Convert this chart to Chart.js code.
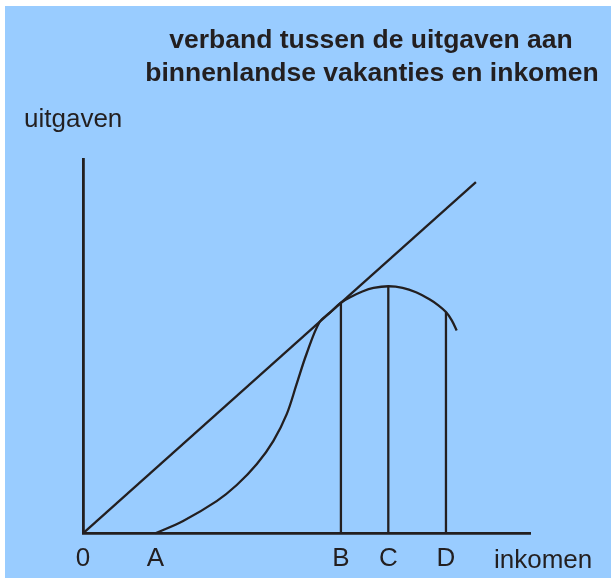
<!DOCTYPE html>
<html>
<head>
<meta charset="utf-8">
<script src="https://cdn.jsdelivr.net/npm/chart.js@4"></script>
<style>
  body { margin: 0; background: #ffffff; overflow: hidden; }
  #chart { position: absolute; left: 5px; top: 6px; background: #99ccff; }
</style>
</head>
<body>
<canvas id="chart" width="606" height="572"></canvas>
<script>
// Marks on the income axis
const markLabels = ['0', 'A', 'B', 'C', 'D'];
const markIncome = [0, 16.2, 57.7, 68.3, 81.2];

// Spending on domestic holidays versus income (the curve)
const curveIncome = [16.2, 22.4, 29.9, 34.4, 38.9, 42.6, 45.6, 47.8, 50.0, 52.9, 55.3, 57.7, 60.0, 62.5, 65.0, 68.3, 71.5, 74.5, 77.5, 79.5, 81.2, 82.5, 83.6];
const curveSpending = [0, 3.3, 8.6, 12.9, 18.5, 24.7, 31.9, 39.9, 47.9, 56.4, 59.0, 61.6, 63.2, 64.6, 65.55, 66.0, 65.6, 64.4, 62.5, 60.9, 59.1, 56.9, 54.2];

// Straight line from the origin
const lineIncome = [0, 87.9];
const lineSpending = [0, 93.85];

// Height of the curve at B, C and D
const dropIncome = [57.7, 68.3, 81.2];
const dropSpending = [61.6, 66.0, 59.1];

const ink = '#231f20';
const font = "'Liberation Sans', Arial, sans-serif";

function pairs(xs, ys) {
  return xs.map((x, i) => ({ x: x, y: ys[i] }));
}

const datasets = [
  { data: pairs(lineIncome, lineSpending) },
  { data: pairs(curveIncome, curveSpending), tension: 0.35 }
];
dropIncome.forEach((x, i) => {
  datasets.push({ data: [{ x: x, y: 0 }, { x: x, y: dropSpending[i] }] });
});
datasets.forEach(ds => {
  ds.borderColor = ink;
  ds.borderWidth = 2.3;
  ds.pointRadius = 0;
  ds.fill = false;
  ds.clip = false;
});

// Title and axis names
const textPlugin = {
  id: 'texts',
  afterDraw(chart) {
    const ctx = chart.ctx;
    ctx.save();
    ctx.fillStyle = ink;
    ctx.textBaseline = 'alphabetic';
    ctx.textAlign = 'center';
    ctx.font = 'bold 26.5px ' + font;
    ctx.fillText('verband tussen de uitgaven aan', 366, 42);
    ctx.fillText('binnenlandse vakanties en inkomen', 367, 75);
    ctx.textAlign = 'left';
    ctx.font = '26px ' + font;
    ctx.fillText('uitgaven', 19, 121);
    ctx.fillText('inkomen', 489, 562);
    ctx.restore();
  }
};

new Chart(document.getElementById('chart'), {
  type: 'line',
  data: { datasets: datasets },
  plugins: [textPlugin],
  options: {
    responsive: false,
    animation: false,
    devicePixelRatio: 1,
    layout: { padding: { left: 78, right: 81, top: 153, bottom: -6.5 } },
    plugins: { legend: { display: false }, tooltip: { enabled: false } },
    scales: {
      x: {
        type: 'linear',
        min: 0,
        max: 100,
        grid: { display: false, drawTicks: false },
        border: { display: true, color: ink, width: 2.8 },
        afterBuildTicks: scale => { scale.ticks = markIncome.map(v => ({ value: v })); },
        ticks: {
          autoSkip: false,
          maxRotation: 0,
          padding: 10,
          color: ink,
          font: { family: font, size: 26 },
          callback: (value, index) => markLabels[index]
        }
      },
      y: {
        type: 'linear',
        min: 0,
        max: 100,
        grid: { display: false, drawTicks: false },
        border: { display: true, color: ink, width: 2.8 },
        ticks: { display: false }
      }
    }
  }
});
</script>
</body>
</html>
